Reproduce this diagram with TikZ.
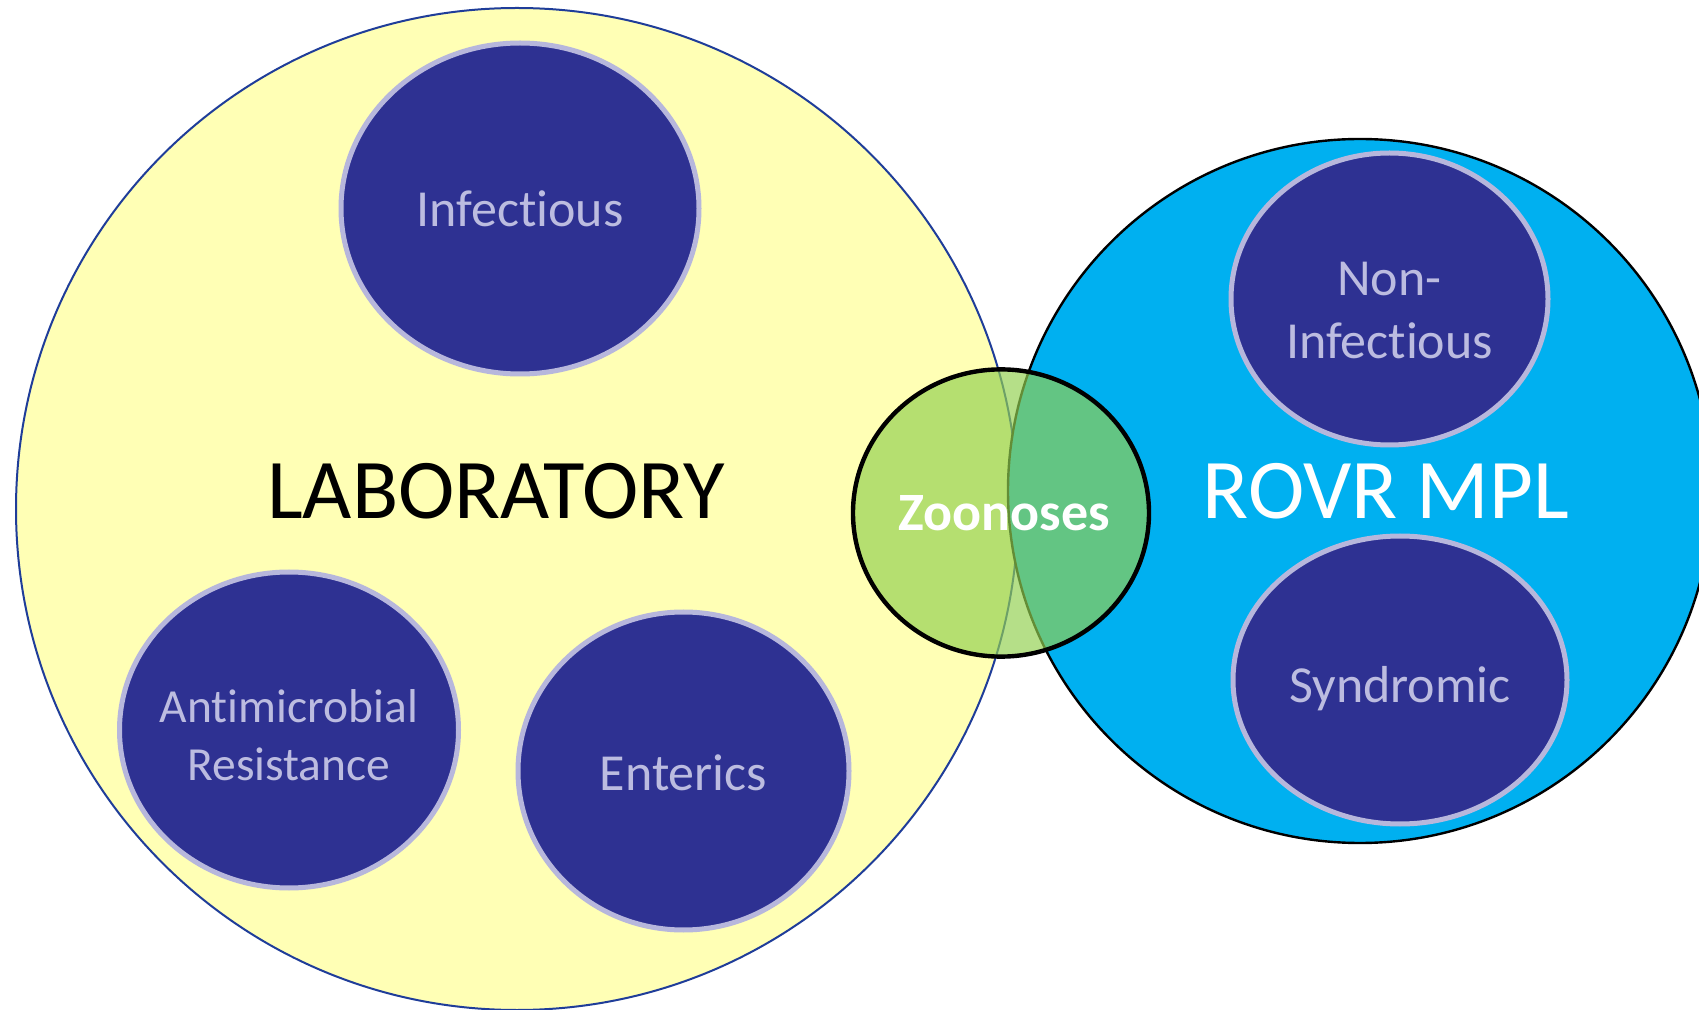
\documentclass[tikz,border=0pt]{standalone}
\usepackage{fontspec}
\setmainfont{Carlito}[Ligatures=NoCommon]
\usetikzlibrary{shapes.geometric}
\definecolor{labyellow}{HTML}{FFFFB5}
\definecolor{labedge}{HTML}{1F3D99}
\definecolor{rovrblue}{HTML}{00B0F0}
\definecolor{topicfill}{HTML}{2E3192}
\definecolor{topicedge}{HTML}{B7B7DC}
\definecolor{topictext}{HTML}{BCBCE0}
\definecolor{zoogreen}{HTML}{92D050}
\begin{document}
\begin{tikzpicture}[x=0.5pt,y=-0.5pt,
  areacircle/.style={circle, inner sep=0pt, outer sep=0pt},
  topic/.style={ellipse, inner sep=0pt, outer sep=0pt, fill=topicfill, draw=topicedge, line width=2.5pt},
  topiclabel/.style={inner sep=0pt, text=topictext, align=center, font=\fontsize{26}{31.5}\selectfont},
  areatitle/.style={inner sep=0pt, font=\fontsize{42.5}{50}\selectfont}]
\useasboundingbox (0,0) rectangle (1699,1010);
\clip (0,0) rectangle (1699,1010);

% the two areas: laboratory (left) and ROVR MPL (right)
\node[areacircle, fill=labyellow, draw=labedge, line width=1pt, minimum size=501pt] (lab) at (517,509) {};
\node[areacircle, fill=rovrblue, draw=black, line width=1.2pt, minimum size=352pt] (rovr) at (1360,491) {};

% topic areas inside the laboratory
\node[topic, minimum width=179pt, minimum height=165.5pt] (inf) at (520,208.5) {};
\node[topiclabel] (inf-t) at (520,209) {Infectious};
\node[topic, minimum width=169.5pt, minimum height=158pt] (amr) at (289,730) {};
\node[topiclabel, font=\fontsize{23.75}{29.25}\selectfont] (amr-t) at (289,735) {Antimicrobial\\Resistance};
\node[topic, minimum width=165.5pt, minimum height=159pt] (ent) at (683.5,771) {};
\node[topiclabel] (ent-t) at (683.5,773) {Enterics};

% topic areas inside ROVR MPL
\node[topic, minimum width=158.5pt, minimum height=146pt] (noninf) at (1389.5,299) {};
\node[topiclabel] (noninf-t) at (1389.5,311) {Non-\\Infectious};
\node[topic, minimum width=167pt, minimum height=144pt] (synd) at (1400,680) {};
\node[topiclabel] (synd-t) at (1400,689) {Syndromic};

% area titles
\node[areatitle, text=black] (lab-t) at (496,491) {LABORATORY};
\node[areatitle, text=white] (rovr-t) at (1386,491) {ROVR MPL};

% shared zoonoses area, translucent over both areas
\node[ellipse, inner sep=0pt, outer sep=0pt, minimum width=148pt, minimum height=143.6pt,
      fill=zoogreen, fill opacity=0.68, text opacity=1, draw=black, line width=2.2pt] (zoo) at (1001,513) {};
\node[inner sep=0pt, text=white, font=\fontsize{27}{32}\selectfont\bfseries] (zoo-t) at (1004,513) {Zoonoses};
\end{tikzpicture}
\end{document}
